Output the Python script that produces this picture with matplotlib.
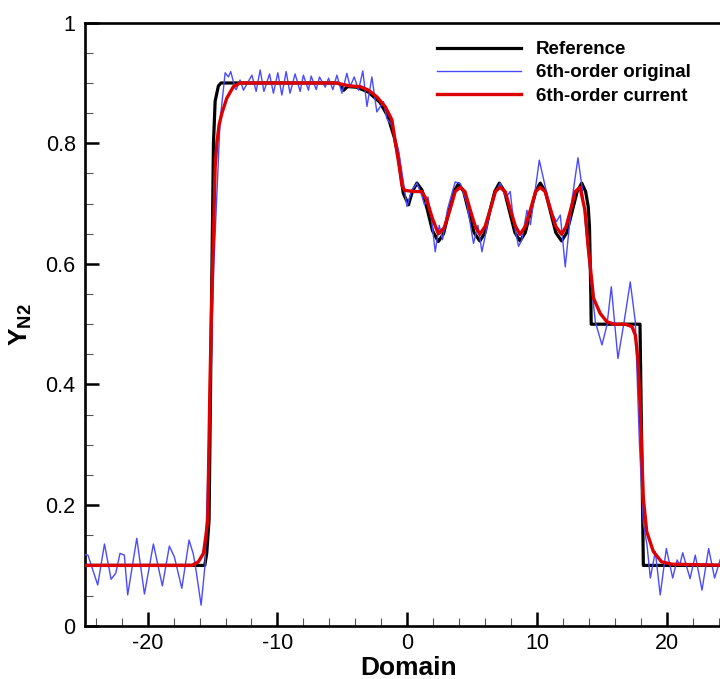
import matplotlib.pyplot as plt
from matplotlib.ticker import MultipleLocator

# =========================
# Style
# =========================
plt.rcParams.update({
    "font.family": ["Liberation Sans", "DejaVu Sans"],
    "mathtext.fontset": "custom",
    "mathtext.rm": "Liberation Sans",
    "mathtext.bf": "Liberation Sans:bold",
    "mathtext.it": "Liberation Sans:italic",
    "axes.unicode_minus": False,
})

TICK_SIZE = 15.5
LABEL_SIZE = 19
LEGEND_SIZE = 13.5

# =========================
# Data
# =========================
ref_x = [-24.85, -15.6, -15.45, -15.27, -15.1, -14.93, -14.8, -14.55, -14.35,
         -5.3, -5.1, -4.9, -4.6, -3.9, -3.0, -2.1, -1.5, -1.0, -0.7, -0.3,
         0.1, 0.4, 0.75, 1.15, 1.55, 1.95, 2.4, 2.8, 3.2, 3.6, 3.96, 4.35,
         4.75, 5.15, 5.6, 6.0, 6.35, 6.75, 7.1, 7.5, 7.9, 8.3, 8.7, 9.1,
         9.5, 9.9, 10.25, 10.65, 11.05, 11.45, 11.9, 12.3, 12.7, 13.1, 13.45,
         13.75, 13.95, 14.05, 14.15, 14.18, 17.94, 18.2, 25.0]
ref_y = [0.1, 0.1, 0.12, 0.175, 0.5, 0.80, 0.87, 0.895, 0.9,
         0.9, 0.897, 0.888, 0.894, 0.893, 0.885, 0.868, 0.845, 0.81, 0.78, 0.717,
         0.698, 0.72, 0.734, 0.722, 0.69, 0.655, 0.637, 0.65, 0.685, 0.72, 0.733, 0.72,
         0.686, 0.652, 0.638, 0.652, 0.686, 0.72, 0.734, 0.72, 0.686, 0.652, 0.638, 0.652,
         0.686, 0.72, 0.734, 0.72, 0.686, 0.652, 0.638, 0.652, 0.686, 0.72, 0.734,
         0.72, 0.695, 0.66, 0.55, 0.5, 0.5, 0.1, 0.1]

orig_x = [-24.85, -24.6, -23.85, -23.33, -22.82, -22.46, -22.13, -21.8, -21.54,
          -20.84, -20.25, -19.56, -18.87, -18.33, -17.94, -17.37, -16.81, -16.5,
          -16.35, -15.88, -15.57, -15.3, -14.9, -14.42, -14.03, -13.78, -13.6,
          -13.26, -13.18, -12.88, -12.62, -11.97, -11.64, -11.33, -11.04, -10.61,
          -10.31, -9.97, -9.66, -9.33, -9.03, -8.64, -8.25, -8.0, -7.61, -7.4,
          -7.01, -6.76, -6.32, -6.06, -5.73, -5.42, -5.03, -4.65, -4.4, -4.08,
          -3.75, -3.42, -3.1, -2.72, -2.34, -1.83, -1.57, -1.2, -0.67, -0.28,
          -0.02, 0.36, 0.75, 1.1, 1.33, 1.6, 1.85, 2.16, 2.47, 2.72, 3.1, 3.7,
          4.1, 4.6, 5.11, 5.45, 5.76, 6.0, 6.6, 7.17, 7.6, 7.94, 8.2, 8.58, 8.84,
          9.23, 9.5, 10.18, 10.64, 11.16, 11.5, 11.8, 12.18, 12.7, 13.16, 13.47,
          13.8, 14.03, 14.5, 15.01, 15.4, 15.73, 16.24, 16.68, 17.19, 17.58,
          17.9, 18.2, 18.48, 18.74, 19.12, 19.5, 19.97, 20.46, 20.8, 21.0,
          21.23, 21.8, 22.2, 22.72, 23.23, 23.69, 24.13, 24.6, 25.0]
orig_y = [0.118, 0.117, 0.0675, 0.1355, 0.077, 0.087, 0.12, 0.117, 0.051,
          0.145, 0.0525, 0.1355, 0.066, 0.132, 0.114, 0.062, 0.142, 0.12,
          0.103, 0.034, 0.103, 0.3, 0.6, 0.838, 0.917, 0.91, 0.919,
          0.891, 0.889, 0.905, 0.888, 0.913, 0.886, 0.9215, 0.886, 0.915,
          0.883, 0.917, 0.88, 0.919, 0.883, 0.915, 0.886, 0.913, 0.888, 0.9115,
          0.889, 0.91, 0.893, 0.908, 0.889, 0.913, 0.883, 0.916, 0.894, 0.91,
          0.888, 0.92, 0.861, 0.91, 0.852, 0.869, 0.841, 0.83, 0.789, 0.734,
          0.695, 0.7225, 0.734, 0.715, 0.698, 0.711, 0.678, 0.62, 0.664, 0.64, 0.69, 0.736,
          0.733, 0.7, 0.634, 0.664, 0.62, 0.645, 0.71, 0.734, 0.71, 0.72, 0.67, 0.629, 0.64,
          0.689, 0.665, 0.772, 0.728, 0.684, 0.67, 0.681, 0.595, 0.706, 0.776, 0.728,
          0.65, 0.598, 0.504, 0.4655, 0.499, 0.562, 0.443, 0.499, 0.57, 0.504,
          0.3, 0.17, 0.134, 0.079, 0.123, 0.051, 0.128, 0.079, 0.109, 0.1,
          0.121, 0.078, 0.117, 0.059, 0.128, 0.079, 0.11, 0.09, 0.1]

cur_x = [-24.85, -16.6, -16.09, -15.7, -15.52, -15.37, -15.2, -15.05, -14.93,
         -14.8, -14.67, -14.5, -14.28, -13.9, -13.39, -12.87, -5.5, -4.4, -3.62,
         -2.98, -2.34, -1.7, -1.18, -0.9, -0.6, -0.4, -0.2, 0.5, 1.13, 1.5,
         1.95, 2.4, 2.85, 3.3, 3.7, 4.08, 4.45, 4.85, 5.25, 5.6, 6.0, 6.4,
         6.8, 7.16, 7.55, 7.95, 8.35, 8.7, 9.1, 9.5, 9.9, 10.24, 10.63, 11.05,
         11.45, 11.9, 12.25, 12.6, 12.95, 13.32, 13.7, 13.97, 14.1, 14.36,
         14.87, 15.39, 16.0, 16.8, 17.32, 17.58, 17.78, 17.95, 18.08, 18.2,
         18.46, 18.97, 19.6, 20.4, 25.0]
cur_y = [0.1, 0.1, 0.106, 0.12, 0.148, 0.175, 0.4, 0.55, 0.65,
         0.76, 0.80, 0.83, 0.85, 0.875, 0.894, 0.9, 0.9, 0.895, 0.894,
         0.888, 0.877, 0.861, 0.839, 0.8, 0.76, 0.73, 0.722, 0.72, 0.72, 0.706,
         0.675, 0.65, 0.66, 0.69, 0.72, 0.727, 0.72, 0.69, 0.662, 0.649, 0.662, 0.69,
         0.72, 0.727, 0.72, 0.69, 0.662, 0.649, 0.662, 0.69, 0.72, 0.727, 0.72, 0.69,
         0.662, 0.649, 0.662, 0.69, 0.72, 0.727, 0.689, 0.623, 0.598, 0.543,
         0.518, 0.504, 0.4998, 0.5, 0.496, 0.482, 0.443, 0.366, 0.283, 0.211,
         0.156, 0.123, 0.106, 0.102, 0.1]

series_labels = ["Reference", "6th-order original", "6th-order current"]

# =========================
# Plot
# =========================
fig = plt.figure(figsize=(7.2, 6.79), dpi=100)
# axes extends past the right edge of the figure (cropped like the original)
ax = fig.add_axes([0.1186, 0.0785, 0.8975, 0.8881])

ax.plot(ref_x, ref_y, color="black", linewidth=2.3, label=series_labels[0], zorder=2)
ax.plot(orig_x, orig_y, color="#4a4aff", linewidth=1.0, label=series_labels[1], zorder=3)
ax.plot(cur_x, cur_y, color="#dd0000", linewidth=2.4, label=series_labels[2], zorder=4)

ax.set_xlim(-24.8, 25)
ax.set_ylim(0, 1)

ax.xaxis.set_major_locator(MultipleLocator(10))
ax.xaxis.set_minor_locator(MultipleLocator(2))
ax.yaxis.set_minor_locator(MultipleLocator(0.05))
ax.set_yticks([0, 0.2, 0.4, 0.6, 0.8, 1.0])
ax.set_yticklabels(["0", "0.2", "0.4", "0.6", "0.8", "1"])

ax.tick_params(which="major", direction="in", length=10, width=1.8,
               labelsize=TICK_SIZE, pad=7)
ax.tick_params(which="minor", direction="in", length=5.5, width=0.8, color="#555555")
ax.tick_params(axis="x", which="major", pad=5)

for spine in ax.spines.values():
    spine.set_linewidth(1.9)

ax.set_xlabel("Domain", fontsize=LABEL_SIZE, fontweight="bold", labelpad=2)
ax.set_ylabel(r"$\mathbf{Y}_{\mathbf{N2}}$", fontsize=LABEL_SIZE, labelpad=8)

ax.legend(
    loc="upper left",
    bbox_to_anchor=(0.532, 0.982),
    frameon=False,
    prop={"weight": "bold", "size": LEGEND_SIZE},
    handlelength=4.5,
    handletextpad=0.8,
    labelspacing=0.33,
    borderaxespad=0.0,
)

fig.savefig("out.png", dpi=100)
